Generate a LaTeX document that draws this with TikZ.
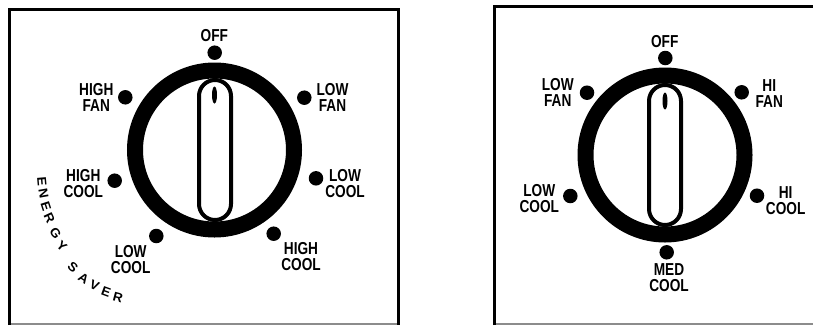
\documentclass[tikz,border=0pt]{standalone}
\usepackage{fontspec}
\setmainfont{Liberation Sans}
\newfontfamily\narrowbold[FakeStretch=0.79]{Liberation Sans Bold}
\newfontfamily\widefont[FakeStretch=1.05]{Liberation Sans Bold}
\tikzset{
  x=1pt,y=-1pt,
  ring/.style={draw=black,line width=16pt,fill=white},
  grip/.style={draw=black,line width=4pt,fill=white,rounded corners=16pt},
  mark dot/.style={circle,fill=black,inner sep=0pt,minimum size=14.5pt},
  lab/.style={font=\narrowbold\fontsize{17.3}{16}\selectfont,align=center,inner sep=0pt,text=black},
  arc letter/.style={font=\widefont\fontsize{12.8}{12.8}\selectfont,inner sep=0pt,text=black},
  frame/.style={draw=black,line width=3pt}
}
\begin{document}
\begin{tikzpicture}
\useasboundingbox (0,0) rectangle (813,325);
\draw[black!45,line width=1.5pt] (9,324.2) -- (399,324.2);
\draw[black!45,line width=1.5pt] (495,324.2) -- (813,324.2);
\draw[frame] (9.2,325) -- (9.2,9.5) -- (398.3,9.5) -- (398.3,325);
\draw[frame] (494.5,325) -- (494.5,6.5) -- (813,6.5);
% left dial
\draw[ring] (214.5,150) circle (79.5);
\draw[grip] (199,80) rectangle (231,220);
\fill[black] (214.5,95) ellipse (2.5 and 8.5);
\node[mark dot] (a1) at (214.7,52.7) {};
\node[mark dot] (a2) at (125.3,97.3) {};
\node[mark dot] (a3) at (304.3,97.7) {};
\node[mark dot] (a4) at (114.7,180.7) {};
\node[mark dot] (a5) at (316,178.3) {};
\node[mark dot] (a6) at (156.3,236) {};
\node[mark dot] (a7) at (273.7,233.7) {};
\node[lab] (t1) at (214.3,36) {OFF};
\node[lab] (t2) at (96.3,97.8) {HIGH\\FAN};
\node[lab] (t3) at (332.5,97.8) {LOW\\FAN};
\node[lab] (t4) at (83.3,184) {HIGH\\COOL};
\node[lab] (t5) at (345,184) {LOW\\COOL};
\node[lab] (t6) at (130.7,260) {LOW\\COOL};
\node[lab] (t7) at (301,256.7) {HIGH\\COOL};
\foreach \ch/\px/\py/\rot in {E/42/182/-85,N/43.5/194/-80,E/46/206/-72,R/49.5/218/-65,G/55.5/233/-55,Y/62/246/-42,S/73/267/-42,A/83.5/278/-33,V/94.5/285.5/-25,E/106/292/-20,R/118/297/-15}{
  \node[arc letter,rotate=\rot] at (\px,\py) {\ch};
}
% right dial
\draw[ring] (665,155) circle (79.5);
\draw[grip] (649,85) rectangle (681,225);
\fill[black] (665,101) ellipse (2.5 and 8.5);
\node[mark dot] (b1) at (665.3,58) {};
\node[mark dot] (b2) at (587,92.7) {};
\node[mark dot] (b3) at (741.7,92.3) {};
\node[mark dot] (b4) at (570.3,196) {};
\node[mark dot] (b5) at (757,195.7) {};
\node[mark dot] (b6) at (666.7,252.3) {};
\node[lab] (s1) at (664.7,41.3) {OFF};
\node[lab] (s2) at (557.7,92.7) {LOW\\FAN};
\node[lab] (s3) at (769.3,93.3) {HI\\FAN};
\node[lab] (s4) at (539.3,199) {LOW\\COOL};
\node[lab] (s5) at (785.7,201) {HI\\COOL};
\node[lab] (s6) at (669,277.7) {MED\\COOL};
\end{tikzpicture}
\end{document}
